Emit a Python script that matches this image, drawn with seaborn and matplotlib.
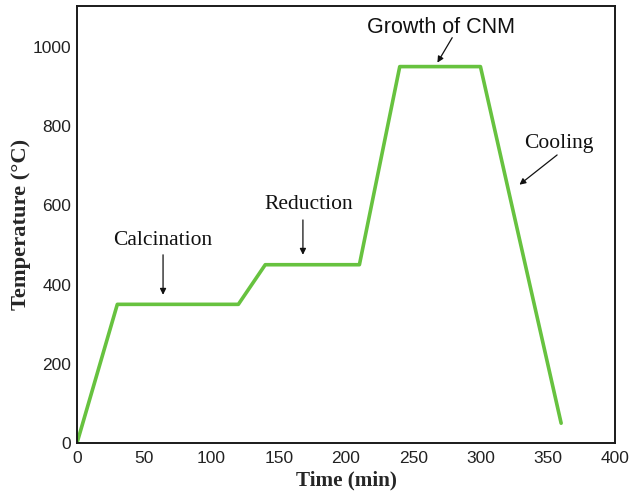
import matplotlib
matplotlib.use("Agg")
import matplotlib.pyplot as plt
import seaborn as sns
import pandas as pd

# Heating programme: time (min) vs furnace temperature (°C)
time_min = [0, 30, 120, 140, 210, 240, 300, 360]
temp_c = [0, 350, 350, 450, 450, 950, 950, 50]

# Stage labels: text, text position, arrow start, arrow tip
stage_names = ["Calcination", "Reduction", "Growth of CNM", "Cooling"]
stage_text_xy = [(64, 512), (172, 603), (271, 1048), (358, 757)]
stage_arrow_from = [(64, 475), (168, 563), (279, 1023), (357, 727)]
stage_arrow_to = [(64, 374), (168, 475), (268, 960), (329, 652)]
stage_fonts = ["Liberation Serif", "Liberation Serif", "Liberation Sans", "Liberation Serif"]

sns.set_style("white")
plt.rcParams["font.family"] = ["Liberation Sans", "DejaVu Sans"]

df = pd.DataFrame({"Time": time_min, "Temperature": temp_c})

fig = plt.figure(figsize=(6.32, 4.98), dpi=100)
ax = fig.add_axes([0.1218, 0.1104, 0.8512, 0.8776])

sns.lineplot(data=df, x="Time", y="Temperature", sort=False, estimator=None,
             color="#67c23f", linewidth=2.6, ax=ax)

for name, txy, a0, a1, fam in zip(stage_names, stage_text_xy, stage_arrow_from,
                                  stage_arrow_to, stage_fonts):
    ax.text(txy[0], txy[1], name, ha="center", va="center", fontsize=15.5,
            family=fam, color="#111111")
    ax.annotate("", xy=a1, xytext=a0,
                arrowprops=dict(arrowstyle="-|>", color="#111111", lw=0.9,
                                mutation_scale=9, shrinkA=0, shrinkB=0))

ax.set_xlim(0, 400)
ax.set_ylim(0, 1103)
ax.set_xticks([0, 50, 100, 150, 200, 250, 300, 350, 400])
ax.set_yticks([0, 200, 400, 600, 800, 1000])
ax.tick_params(axis="both", length=0, labelsize=12.5, colors="#222222")
ax.tick_params(axis="x", pad=6)
ax.tick_params(axis="y", pad=4)

ax.set_xlabel("Time (min)", family="Liberation Serif", fontweight="bold",
              fontsize=15.2, labelpad=3)
ax.set_ylabel("Temperature (°C)", family="Liberation Serif", fontweight="bold",
              fontsize=16.2, labelpad=1)

for sp in ax.spines.values():
    sp.set_visible(True)
    sp.set_color("#1a1a1a")
    sp.set_linewidth(1.4)

fig.savefig("out.png", dpi=100)
